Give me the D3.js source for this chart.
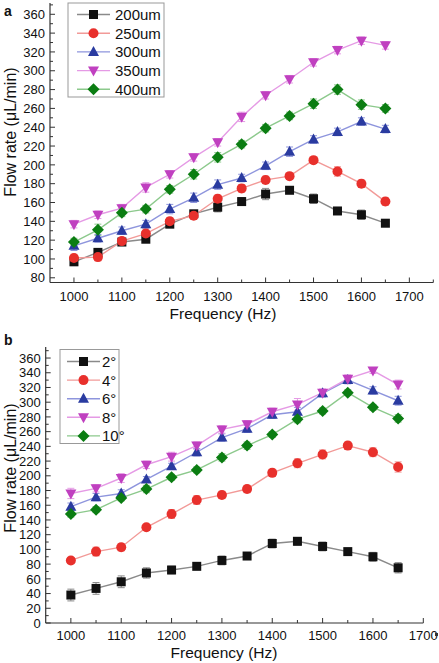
<!DOCTYPE html>
<html><head><meta charset="utf-8">
<script src="https://cdn.jsdelivr.net/npm/d3@7"></script>
<style>
body{margin:0;background:#fff;}
svg{display:block;font-family:"Liberation Sans",Arial,sans-serif;}
</style></head>
<body>
<svg id="chart" width="439" height="663"></svg>
<script>
const freqs = [1000,1050,1100,1150,1200,1250,1300,1350,1400,1450,1500,1550,1600,1650];
const xTicks = [1000,1100,1200,1300,1400,1500,1600,1700];

const seriesNamesA = ["200um","250um","300um","350um","400um"];
const a200 = [97,107,118,121,137,148,155,161,169,173,164,151,147,138];
const a250 = [101,102,119,127,140,146,164,175,184,188,205,193,180,161];
const a300 = [114,122,130,137,153,165,179,186,199,214,227,235,246,238];
const a350 = [137,147,154,176,190,208,224,251,274,291,309,322,332,327];
const a400 = [118,131,149,153,174,190,208,222,239,252,265,280,264,260];
const errA200 = [4,4,3,3,3,3,5,4,6,3,5,3,5,3];
const errA250 = [4,4,4,5,4,4,4,4,4,3,3,5,4,4];
const errA300 = [5,4,4,4,5,5,5,4,4,5,4,4,4,4];
const errA350 = [4,4,4,5,4,4,4,5,4,4,4,4,4,4];
const errA400 = [4,6,4,4,4,5,5,4,4,4,5,5,5,4];

const seriesNamesB = ["2°","4°","6°","8°","10°"];
const b2 = [38,47,56,68,72,77,85,91,108,111,104,97,90,75];
const b4 = [85,97,103,130,148,167,174,182,204,217,229,241,232,212];
const b6 = [158,171,176,195,213,232,252,264,283,287,312,330,316,302];
const b8 = [176,183,197,215,226,241,263,270,287,297,313,332,343,324];
const b10 = [148,154,170,182,198,208,225,241,256,277,288,313,293,278];
const errB2 = [8,8,8,7,5,4,6,4,6,5,6,4,6,7];
const errB4 = [4,6,5,4,6,6,5,5,5,6,6,5,6,7];
const errB6 = [5,5,5,4,4,5,5,5,5,6,5,5,5,6];
const errB8 = [7,5,6,5,6,5,5,5,5,8,5,5,4,6];
const errB10 = [4,4,4,5,4,4,5,5,4,5,4,4,4,5];

const colors = ["#111111","#e8302c","#2a3ba0","#c040c0","#0b7d12"];
const lineColors = ["#8a8a8a","#f29a98","#8e95dd","#e59ae5","#8cc98c"];
const shapes = ["square","circle","triangle","tri-down","diamond"];

const svg = d3.select("#chart");

function marker(g, shape, color, cx, cy){
  if(shape==="square"){
    g.append("rect").attr("x",cx-4.5).attr("y",cy-4.5).attr("width",9).attr("height",9).attr("fill",color);
  } else if(shape==="circle"){
    g.append("circle").attr("cx",cx).attr("cy",cy).attr("r",5).attr("fill",color);
  } else if(shape==="triangle"){
    g.append("path").attr("d",`M${cx},${cy-6}L${cx+5.5},${cy+4}L${cx-5.5},${cy+4}Z`).attr("fill",color);
  } else if(shape==="tri-down"){
    g.append("path").attr("d",`M${cx},${cy+6}L${cx+5.5},${cy-4}L${cx-5.5},${cy-4}Z`).attr("fill",color);
  } else {
    g.append("path").attr("d",`M${cx},${cy-6}L${cx+6},${cy}L${cx},${cy+6}L${cx-6},${cy}Z`).attr("fill",color);
  }
}

function panel(opt){
  const {letter, letterY, x, y, series, errs, names, yTicks, yMinor, xMinor, legend, titleY, titleX, yLabelY, tickLabelY, xAxisEnd} = opt;
  const g = svg.append("g");
  const x0 = x.range()[0];
  const yb = y.range()[0], yt = y.range()[1];

  g.append("line").attr("x1",x0).attr("x2",x0).attr("y1",yb).attr("y2",yt).attr("stroke","#333").attr("stroke-width",1.2);
  g.append("line").attr("x1",x0).attr("x2",xAxisEnd).attr("y1",yb).attr("y2",yb).attr("stroke","#333").attr("stroke-width",1.2);

  yTicks.forEach(v=>{
    g.append("line").attr("x1",x0).attr("x2",x0+5).attr("y1",y(v)).attr("y2",y(v)).attr("stroke","#333");
    g.append("text").attr("x",x0-5).attr("y",y(v)).attr("dy","0.36em").attr("text-anchor","end")
      .attr("font-size",13).attr("fill","#111").text(v);
  });
  yMinor.forEach(v=>{
    g.append("line").attr("x1",x0).attr("x2",x0+3).attr("y1",y(v)).attr("y2",y(v)).attr("stroke","#333");
  });
  xTicks.forEach(v=>{
    g.append("line").attr("x1",x(v)).attr("x2",x(v)).attr("y1",yb).attr("y2",yb-5).attr("stroke","#333");
    g.append("text").attr("x",x(v)).attr("y",tickLabelY).attr("text-anchor","middle")
      .attr("font-size",13).attr("fill","#111").text(v);
  });
  xMinor.forEach(v=>{
    g.append("line").attr("x1",x(v)).attr("x2",x(v)).attr("y1",yb).attr("y2",yb-3).attr("stroke","#333");
  });

  g.append("text").attr("x",titleX).attr("y",titleY).attr("text-anchor","middle")
    .attr("font-size",15.5).attr("fill","#111").text("Frequency (Hz)");
  g.append("text").attr("transform",`translate(16,${yLabelY}) rotate(-90)`).attr("text-anchor","middle")
    .attr("font-size",16).attr("fill","#111").text("Flow rate (μL/min)");
  g.append("text").attr("x",4).attr("y",letterY).attr("font-size",14).attr("font-weight","bold").attr("fill","#111").text(letter);

  series.forEach((vals,i)=>{
    const line = d3.line().x((d,j)=>x(freqs[j])).y(d=>y(d));
    g.append("path").attr("d",line(vals)).attr("fill","none").attr("stroke",lineColors[i]).attr("stroke-width",1.4);
    vals.forEach((v,j)=>{
      const cx = x(freqs[j]), e = errs[i][j];
      const ec = lineColors[i];
      g.append("line").attr("x1",cx).attr("x2",cx).attr("y1",y(v+e)).attr("y2",y(v-e)).attr("stroke",ec).attr("stroke-width",1);
      [v+e,v-e].forEach(w=>g.append("line").attr("x1",cx-3.5).attr("x2",cx+3.5).attr("y1",y(w)).attr("y2",y(w)).attr("stroke",ec).attr("stroke-width",1));
    });
  });
  series.forEach((vals,i)=>{
    vals.forEach((v,j)=>marker(g,shapes[i],colors[i],x(freqs[j]),y(v)));
  });

  const L = legend;
  g.append("rect").attr("x",L.x).attr("y",L.y).attr("width",L.w).attr("height",L.h)
    .attr("fill","#fff").attr("stroke","#999").attr("stroke-width",1);
  names.forEach((n,i)=>{
    const ly = L.y + L.first + i*L.step;
    g.append("line").attr("x1",L.lx1).attr("x2",L.lx2).attr("y1",ly).attr("y2",ly).attr("stroke",lineColors[i]).attr("stroke-width",1.4);
    marker(g,shapes[i],colors[i],(L.lx1+L.lx2)/2,ly);
    g.append("text").attr("x",L.tx).attr("y",ly).attr("dy","0.36em").attr("font-size",L.fs).attr("fill","#111").text(n);
  });
  return g;
}

const xA = d3.scaleLinear().domain([950,1750]).range([50,433.3]);
const yA = d3.scaleLinear().domain([75,372]).range([282.5,3]);
panel({
  letter:"a", letterY:16, x:xA, y:yA,
  series:[a200,a250,a300,a350,a400], errs:[errA200,errA250,errA300,errA350,errA400],
  names:seriesNamesA,
  yTicks:d3.range(80,361,20), yMinor:d3.range(90,371,20),
  xMinor:[1050,1150,1250,1350,1450,1550,1650,1750],
  legend:{x:68,y:3,w:96,h:94,first:11.5,step:18.7,lx1:77,lx2:110,tx:115,fs:15},
  titleY:319, titleX:223, yLabelY:132, tickLabelY:301, xAxisEnd:433.3
});

const xB = d3.scaleLinear().domain([950,1700]).range([45.7,423.3]);
const yB = d3.scaleLinear().domain([0,375]).range([623,347]);
const gb = panel({
  letter:"b", letterY:345, x:xB, y:yB,
  series:[b2,b4,b6,b8,b10], errs:[errB2,errB4,errB6,errB8,errB10],
  names:seriesNamesB,
  yTicks:d3.range(0,361,20), yMinor:d3.range(10,371,20),
  xMinor:[1050,1150,1250,1350,1450,1550,1650],
  legend:{x:60,y:349.5,w:59,h:94,first:12,step:18.6,lx1:67,lx2:100,tx:102,fs:15},
  titleY:658, titleX:224, yLabelY:468, tickLabelY:640, xAxisEnd:423.3
});
gb.append("rect").attr("x",435).attr("y",633).attr("width",3).attr("height",3).attr("fill","#333");
</script>
</body></html>
